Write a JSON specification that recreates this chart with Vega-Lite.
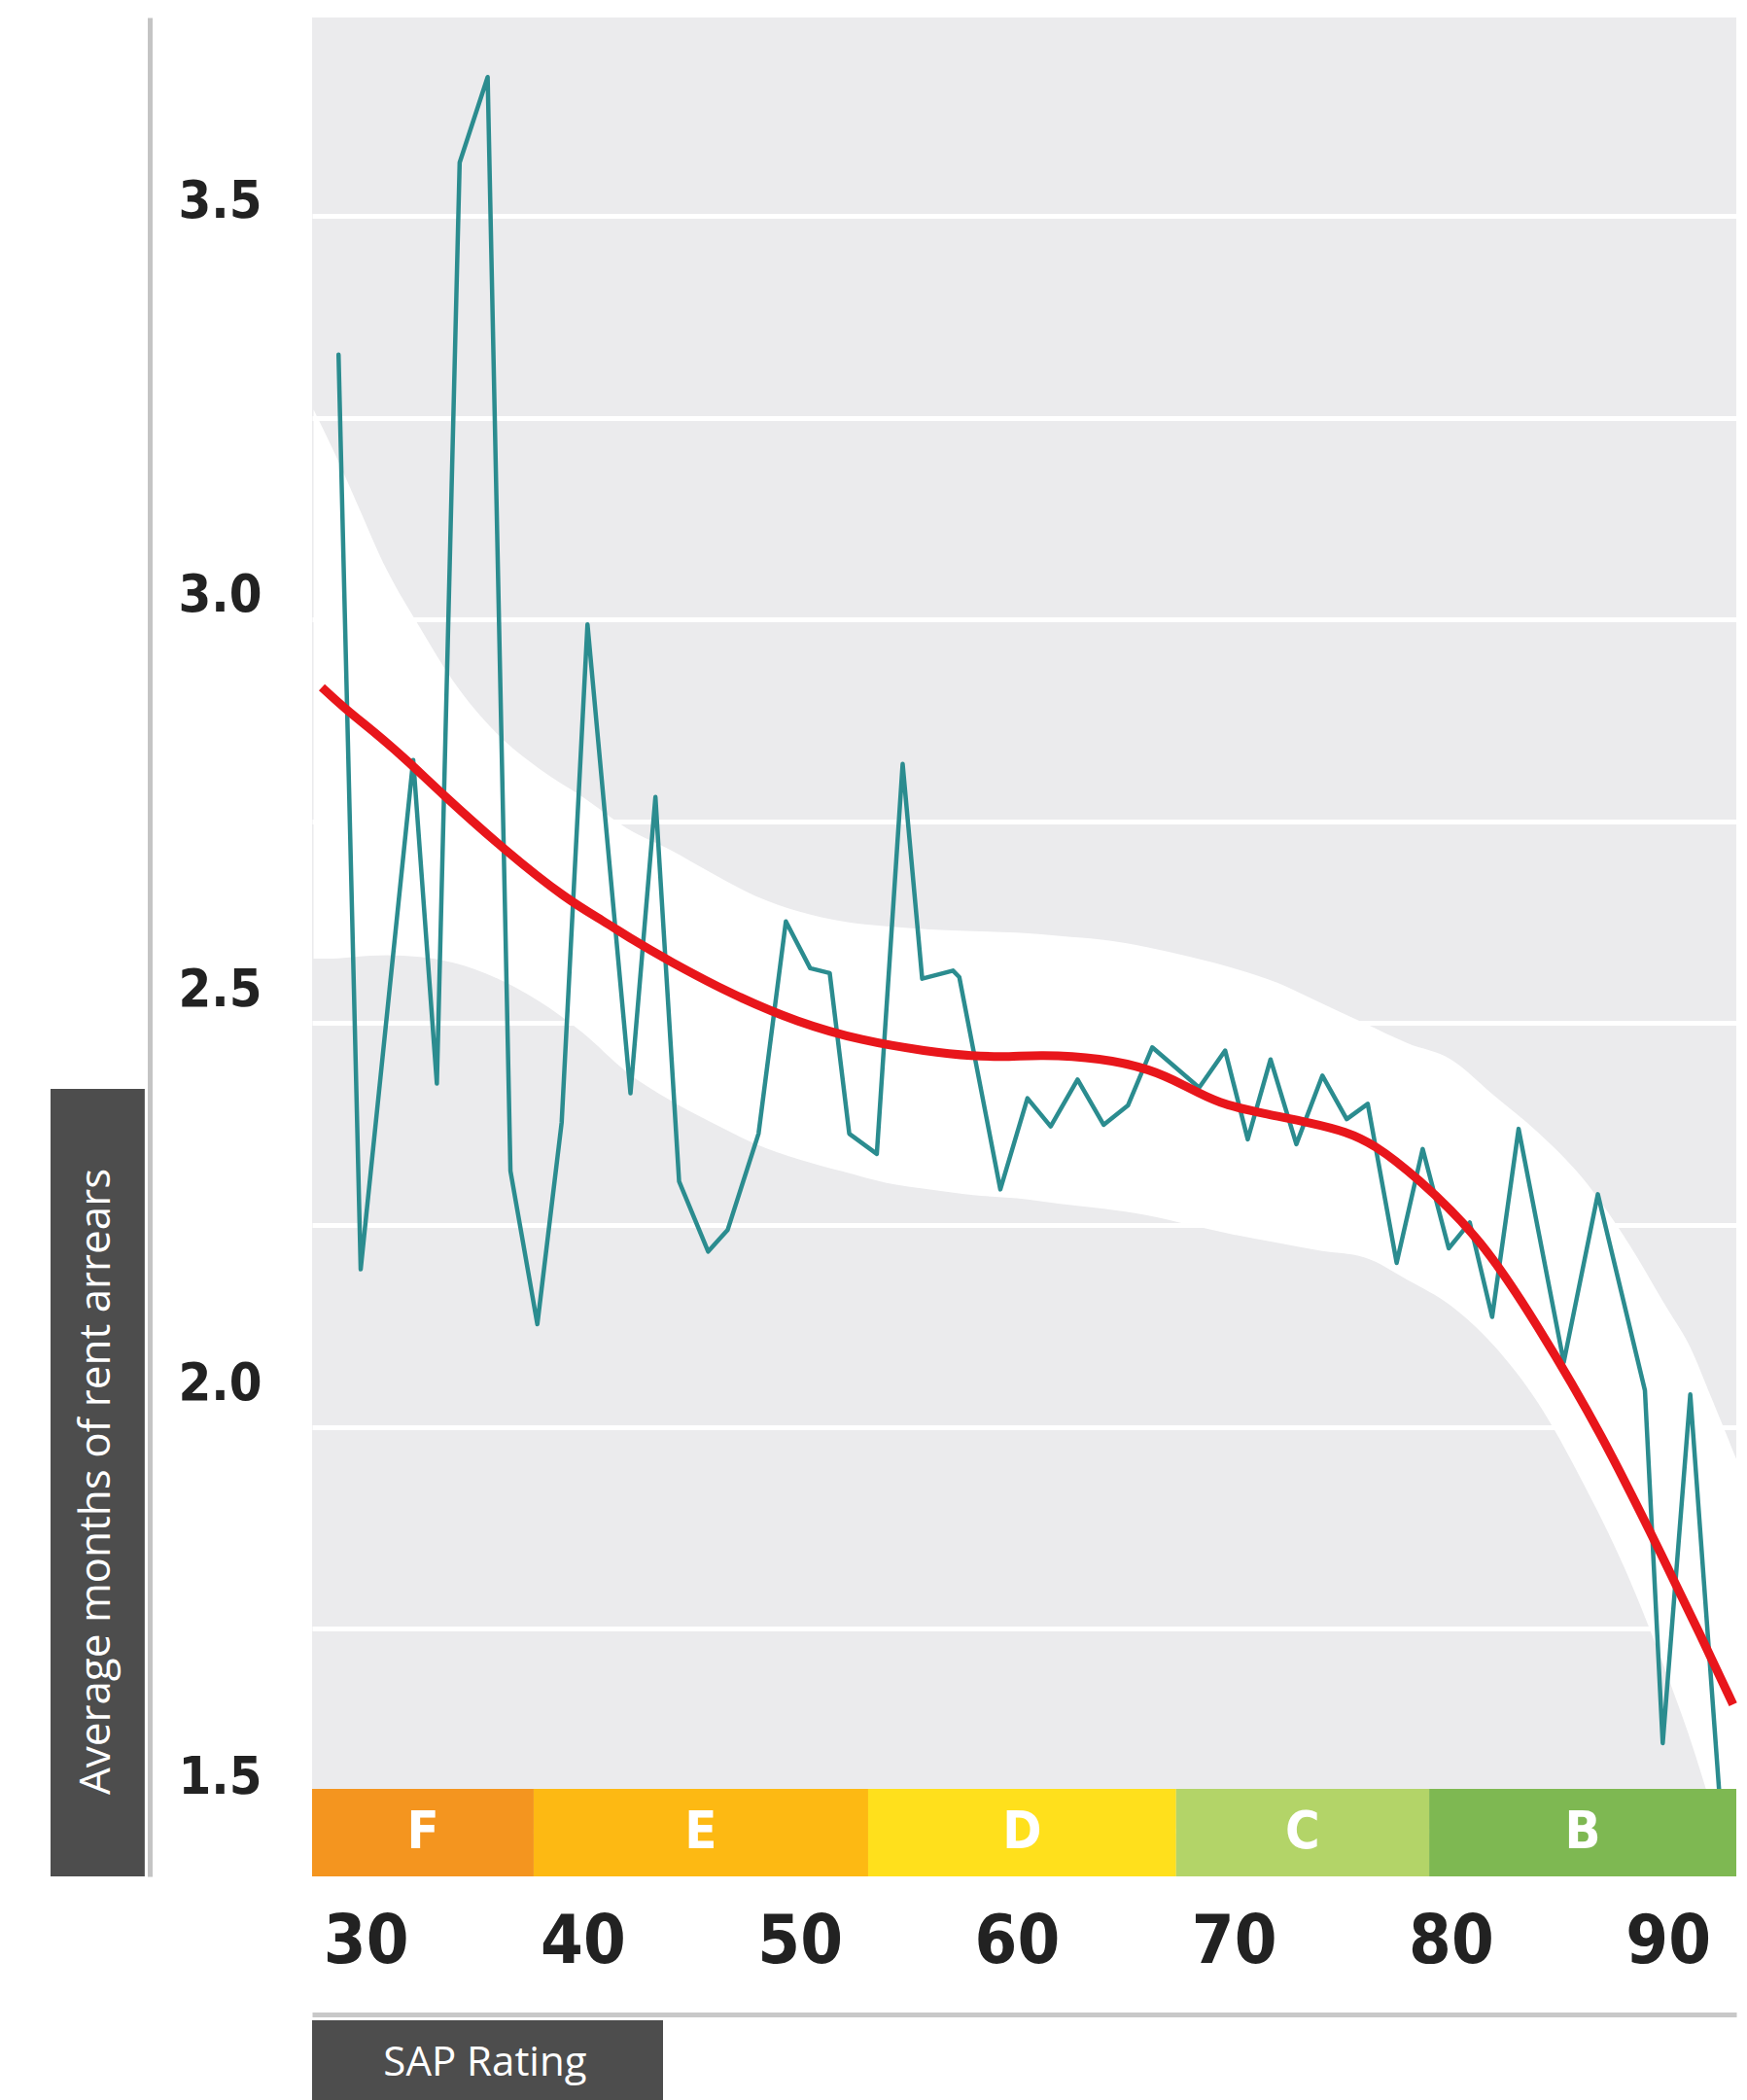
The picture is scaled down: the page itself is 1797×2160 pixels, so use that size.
{
  "$schema": "https://vega.github.io/schema/vega-lite/v6.json",
  "width": 1465,
  "height": 1912,
  "autosize": "none",
  "padding": {"left": 321, "top": 18, "right": 11, "bottom": 230},
  "background": "white",
  "config": {
    "view": {"fill": "#EBEBED", "stroke": null},
    "axis": {"title": null}
  },
  "datasets": {
    "arrears": [
      {"sap": 28.75, "months": 3.328}, {"sap": 29.77, "months": 2.195}, {"sap": 32.19, "months": 2.826},
      {"sap": 33.28, "months": 2.425}, {"sap": 34.33, "months": 3.566}, {"sap": 35.62, "months": 3.672},
      {"sap": 36.67, "months": 2.317}, {"sap": 37.91, "months": 2.127}, {"sap": 39.03, "months": 2.377},
      {"sap": 40.22, "months": 2.994}, {"sap": 42.2, "months": 2.413}, {"sap": 43.35, "months": 2.78},
      {"sap": 44.44, "months": 2.304}, {"sap": 45.78, "months": 2.217}, {"sap": 46.68, "months": 2.244},
      {"sap": 48.1, "months": 2.363}, {"sap": 49.36, "months": 2.626}, {"sap": 50.48, "months": 2.568},
      {"sap": 51.38, "months": 2.562}, {"sap": 52.28, "months": 2.363}, {"sap": 53.55, "months": 2.338},
      {"sap": 54.74, "months": 2.821}, {"sap": 55.64, "months": 2.555}, {"sap": 57.06, "months": 2.565},
      {"sap": 57.35, "months": 2.557}, {"sap": 59.24, "months": 2.294}, {"sap": 60.49, "months": 2.407},
      {"sap": 61.56, "months": 2.372}, {"sap": 62.8, "months": 2.43}, {"sap": 64.0, "months": 2.374},
      {"sap": 65.12, "months": 2.398}, {"sap": 66.24, "months": 2.47}, {"sap": 68.4, "months": 2.42},
      {"sap": 69.6, "months": 2.466}, {"sap": 70.64, "months": 2.356}, {"sap": 71.69, "months": 2.455},
      {"sap": 72.88, "months": 2.35}, {"sap": 74.08, "months": 2.435}, {"sap": 75.2, "months": 2.381},
      {"sap": 76.17, "months": 2.4}, {"sap": 77.5, "months": 2.203}, {"sap": 78.7, "months": 2.344},
      {"sap": 79.9, "months": 2.221}, {"sap": 80.87, "months": 2.253}, {"sap": 81.9, "months": 2.136},
      {"sap": 83.12, "months": 2.369}, {"sap": 85.2, "months": 2.08}, {"sap": 86.77, "months": 2.288},
      {"sap": 88.94, "months": 2.045}, {"sap": 89.76, "months": 1.608}, {"sap": 91.03, "months": 2.04},
      {"sap": 92.6, "months": 1.46}
    ],
    "trend": [
      {"sap": 27.98, "fit": 2.916}, {"sap": 29.02, "fit": 2.89}, {"sap": 30.52, "fit": 2.858},
      {"sap": 32.01, "fit": 2.823}, {"sap": 33.35, "fit": 2.788}, {"sap": 36.49, "fit": 2.712},
      {"sap": 39.33, "fit": 2.652}, {"sap": 40.93, "fit": 2.627}, {"sap": 42.31, "fit": 2.603},
      {"sap": 43.91, "fit": 2.578}, {"sap": 46.9, "fit": 2.535}, {"sap": 49.89, "fit": 2.501},
      {"sap": 52.87, "fit": 2.478}, {"sap": 55.86, "fit": 2.465}, {"sap": 57.95, "fit": 2.459},
      {"sap": 59.74, "fit": 2.458}, {"sap": 60.94, "fit": 2.461}, {"sap": 63.92, "fit": 2.457},
      {"sap": 66.16, "fit": 2.443}, {"sap": 67.66, "fit": 2.424}, {"sap": 69.3, "fit": 2.4},
      {"sap": 71.39, "fit": 2.388}, {"sap": 73.63, "fit": 2.376}, {"sap": 75.12, "fit": 2.366},
      {"sap": 76.47, "fit": 2.35}, {"sap": 78.4, "fit": 2.31}, {"sap": 81.4, "fit": 2.233},
      {"sap": 83.94, "fit": 2.128}, {"sap": 86.92, "fit": 1.993}, {"sap": 89.91, "fit": 1.83},
      {"sap": 91.5, "fit": 1.742}, {"sap": 93.0, "fit": 1.656}
    ],
    "ribbon": [
      {"sap": 27.6, "upper": 3.26, "lower": 2.58}, {"sap": 28.5, "upper": 3.21, "lower": 2.58},
      {"sap": 29.5, "upper": 3.15, "lower": 2.582}, {"sap": 31.0, "upper": 3.06, "lower": 2.584},
      {"sap": 32.5, "upper": 2.99, "lower": 2.582}, {"sap": 34.0, "upper": 2.925, "lower": 2.575},
      {"sap": 36.0, "upper": 2.86, "lower": 2.556}, {"sap": 38.0, "upper": 2.815, "lower": 2.527},
      {"sap": 40.0, "upper": 2.78, "lower": 2.488}, {"sap": 42.0, "upper": 2.742, "lower": 2.44},
      {"sap": 44.0, "upper": 2.715, "lower": 2.405}, {"sap": 46.0, "upper": 2.685, "lower": 2.376},
      {"sap": 48.0, "upper": 2.657, "lower": 2.35}, {"sap": 50.0, "upper": 2.638, "lower": 2.331},
      {"sap": 52.0, "upper": 2.626, "lower": 2.316}, {"sap": 54.0, "upper": 2.62, "lower": 2.302},
      {"sap": 56.0, "upper": 2.616, "lower": 2.294}, {"sap": 58.0, "upper": 2.614, "lower": 2.287},
      {"sap": 60.0, "upper": 2.612, "lower": 2.283}, {"sap": 62.0, "upper": 2.608, "lower": 2.276},
      {"sap": 64.0, "upper": 2.603, "lower": 2.27}, {"sap": 66.0, "upper": 2.594, "lower": 2.262},
      {"sap": 68.0, "upper": 2.582, "lower": 2.25}, {"sap": 70.0, "upper": 2.568, "lower": 2.238},
      {"sap": 72.0, "upper": 2.55, "lower": 2.228}, {"sap": 74.0, "upper": 2.525, "lower": 2.218},
      {"sap": 76.0, "upper": 2.5, "lower": 2.21}, {"sap": 78.0, "upper": 2.475, "lower": 2.182},
      {"sap": 80.0, "upper": 2.455, "lower": 2.15}, {"sap": 82.0, "upper": 2.41, "lower": 2.1},
      {"sap": 84.0, "upper": 2.365, "lower": 2.03}, {"sap": 86.0, "upper": 2.31, "lower": 1.935},
      {"sap": 88.0, "upper": 2.235, "lower": 1.825}, {"sap": 90.0, "upper": 2.145, "lower": 1.69},
      {"sap": 91.0, "upper": 2.1, "lower": 1.615}, {"sap": 92.0, "upper": 2.036, "lower": 1.53},
      {"sap": 93.15, "upper": 1.96, "lower": 1.43}
    ],
    "bands": [
      {"grade": "F", "start": 27.53, "end": 37.74},
      {"grade": "E", "start": 37.74, "end": 53.15},
      {"grade": "D", "start": 53.15, "end": 67.34},
      {"grade": "C", "start": 67.34, "end": 79.0},
      {"grade": "B", "start": 79.0, "end": 93.15}
    ]
  },
  "layer": [
    {
      "data": {"name": "ribbon"},
      "mark": {"type": "area", "color": "white", "interpolate": "monotone"},
      "encoding": {
        "x": {
          "field": "sap", "type": "quantitative",
          "scale": {"domain": [27.53, 93.15], "nice": false, "zero": false},
          "axis": {
            "values": [30, 40, 50, 60, 70, 80, 90],
            "title": null, "grid": false, "ticks": false, "tickSize": 0,
            "domain": true, "domainColor": "#C8C8C8", "domainWidth": 5, "offset": 142,
            "labelPadding": -75, "labelBaseline": "middle", "labelAlign": "center",
            "labelFont": "DejaVu Sans Condensed",
            "labelFontWeight": "bold", "labelFontSize": 70, "labelColor": "#222222",
            "labelFlush": false, "labelOverlap": false
          }
        },
        "y": {
          "field": "upper", "type": "quantitative",
          "scale": {"domain": [1.443, 3.7457], "nice": false, "zero": false},
          "axis": {
            "values": [1.5, 1.75, 2, 2.25, 2.5, 2.75, 3, 3.25, 3.5],
            "title": null, "grid": true, "gridColor": "white", "gridWidth": 5, "gridOpacity": 1,
            "ticks": false, "tickSize": 0,
            "domain": true, "domainColor": "#C4C4C4", "domainWidth": 5, "offset": 167,
            "labelPadding": -115, "labelAlign": "right", "labelBaseline": "middle",
            "labelExpr": "(datum.value * 2) % 1 == 0 ? format(datum.value, '.1f') : ''",
            "labelFont": "DejaVu Sans Condensed",
            "labelFontWeight": "bold", "labelFontSize": 54, "labelColor": "#222222",
            "labelFlush": false, "labelOverlap": false,
            "labelOffset": {
              "condition": [
                {"test": "datum.value == 3.5", "value": -15},
                {"test": "datum.value == 3", "value": -25},
                {"test": "datum.value == 2.5", "value": -34},
                {"test": "datum.value == 2", "value": -44}
              ],
              "value": -54
            }
          }
        },
        "y2": {"field": "lower"}
      }
    },
    {
      "data": {"name": "arrears"},
      "mark": {"type": "line", "color": "#2B8C8F", "strokeWidth": 4.5, "strokeJoin": "round", "strokeCap": "round"},
      "encoding": {
        "x": {"field": "sap", "type": "quantitative", "scale": {"domain": [27.53, 93.15], "nice": false, "zero": false}},
        "y": {"field": "months", "type": "quantitative", "scale": {"domain": [1.443, 3.7457], "nice": false, "zero": false}}
      }
    },
    {
      "data": {"name": "trend"},
      "mark": {"type": "line", "color": "#E8161B", "strokeWidth": 9, "interpolate": "basis", "strokeCap": "butt"},
      "encoding": {
        "x": {"field": "sap", "type": "quantitative", "scale": {"domain": [27.53, 93.15], "nice": false, "zero": false}},
        "y": {"field": "fit", "type": "quantitative", "scale": {"domain": [1.443, 3.7457], "nice": false, "zero": false}}
      }
    },
    {
      "data": {"name": "bands"},
      "mark": {"type": "rect"},
      "encoding": {
        "x": {"field": "start", "type": "quantitative", "scale": {"domain": [27.53, 93.15], "nice": false, "zero": false}},
        "x2": {"field": "end"},
        "y": {"datum": 1.443, "type": "quantitative", "scale": {"domain": [1.443, 3.7457], "nice": false, "zero": false}},
        "y2": {"datum": 1.5513},
        "color": {
          "field": "grade", "type": "nominal", "legend": null,
          "scale": {"domain": ["F", "E", "D", "C", "B"], "range": ["#F4951F", "#FDB913", "#FFE01C", "#B3D468", "#7EB852"]}
        }
      }
    },
    {
      "data": {"name": "bands"},
      "transform": [
        {"fold": ["start", "end"], "as": ["edge", "pos"]},
        {"aggregate": [{"op": "mean", "field": "pos", "as": "mid"}], "groupby": ["grade"]}
      ],
      "mark": {"type": "text", "color": "white", "font": "DejaVu Sans Condensed", "fontWeight": "bold", "fontSize": 54, "baseline": "middle", "align": "center"},
      "encoding": {
        "x": {"field": "mid", "type": "quantitative", "scale": {"domain": [27.53, 93.15], "nice": false, "zero": false}},
        "y": {"datum": 1.497, "type": "quantitative", "scale": {"domain": [1.443, 3.7457], "nice": false, "zero": false}},
        "text": {"field": "grade"}
      }
    },
    {
      "data": {"values": [{"label": "Average months of rent arrears"}]},
      "mark": {"type": "rect", "color": "#4D4D4D"},
      "encoding": {
        "x": {"datum": 15.48, "type": "quantitative", "scale": {"domain": [27.53, 93.15], "nice": false, "zero": false}},
        "x2": {"datum": 19.82},
        "y": {"datum": 2.4185, "type": "quantitative", "scale": {"domain": [1.443, 3.7457], "nice": false, "zero": false}},
        "y2": {"datum": 1.443}
      }
    },
    {
      "data": {"values": [{"label": "Average months of rent arrears"}]},
      "mark": {"type": "text", "color": "white", "font": "Open Sans", "fontSize": 44, "angle": 270, "align": "center", "baseline": "middle"},
      "encoding": {
        "x": {"datum": 17.63, "type": "quantitative", "scale": {"domain": [27.53, 93.15], "nice": false, "zero": false}},
        "y": {"datum": 1.932, "type": "quantitative", "scale": {"domain": [1.443, 3.7457], "nice": false, "zero": false}},
        "text": {"field": "label"}
      }
    },
    {
      "data": {"values": [{"label": "SAP Rating"}]},
      "mark": {"type": "rect", "color": "#4D4D4D"},
      "encoding": {
        "x": {"datum": 27.53, "type": "quantitative", "scale": {"domain": [27.53, 93.15], "nice": false, "zero": false}},
        "x2": {"datum": 43.7},
        "y": {"datum": 1.2647, "type": "quantitative", "scale": {"domain": [1.443, 3.7457], "nice": false, "zero": false}},
        "y2": {"datum": 1.14}
      }
    },
    {
      "data": {"values": [{"label": "SAP Rating"}]},
      "mark": {"type": "text", "color": "white", "font": "Open Sans", "fontSize": 42, "align": "center", "baseline": "middle"},
      "encoding": {
        "x": {"datum": 35.5, "type": "quantitative", "scale": {"domain": [27.53, 93.15], "nice": false, "zero": false}},
        "y": {"datum": 1.212, "type": "quantitative", "scale": {"domain": [1.443, 3.7457], "nice": false, "zero": false}},
        "text": {"field": "label"}
      }
    }
  ]
}
